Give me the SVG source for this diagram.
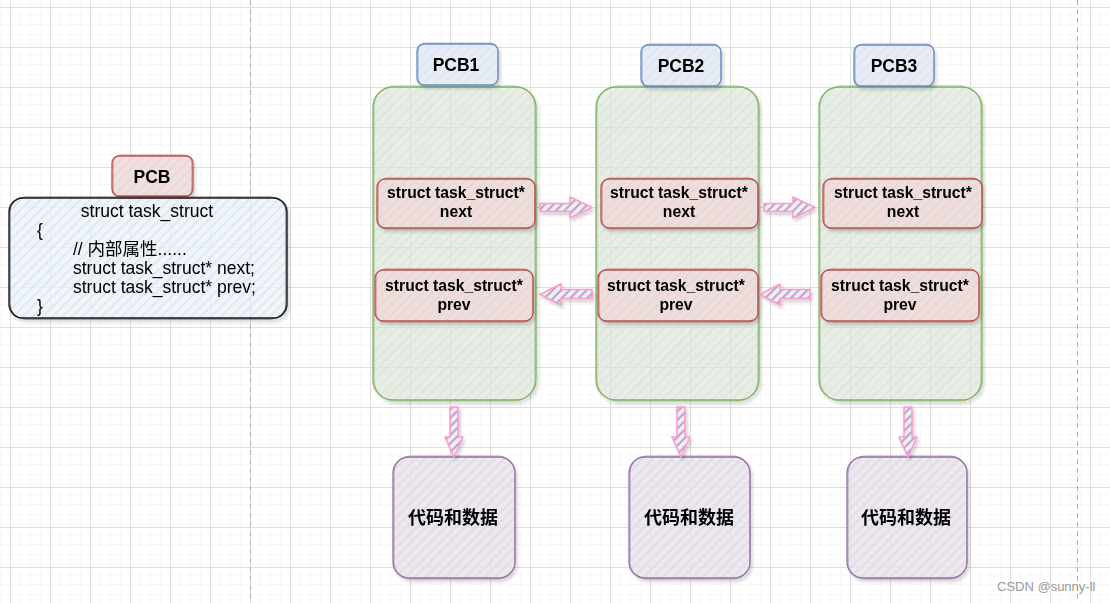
<svg xmlns="http://www.w3.org/2000/svg" width="1110" height="603" viewBox="0 0 1110 603">
<style>
  .t { font-family: "Liberation Sans", "Noto Sans CJK SC", Arial, sans-serif; fill: #000; }
  .mono { font-size: 17.5px; }
  .lbl { font-size: 17.5px; font-weight: bold; text-anchor: middle; }
  .fld { font-size: 15.7px; font-weight: bold; text-anchor: middle; }
  .code { font-size: 18px; font-weight: bold; text-anchor: middle; }
  .green { stroke: #82b366; stroke-width: 1.3; }
  .red { stroke: #b85450; stroke-width: 1.3; }
  .blue { stroke: #6c8ebf; stroke-width: 1.3; }
  .purple { stroke: #9673a6; stroke-width: 1.3; }
  .black { stroke: #1a1a1a; stroke-width: 1.4; }
  .echo { fill: none; stroke-width: 0.9; opacity: 0.75; }
  .arrow { fill: url(#hP); stroke: #ff99cc; stroke-width: 1.6; stroke-linejoin: round; }
</style>
<defs>
  <pattern id="gridMinor" width="10" height="10" x="10" y="7" patternUnits="userSpaceOnUse">
    <path d="M0 0H10M0 0V10" fill="none" stroke="#f1f1f1" stroke-width="1"/>
  </pattern>
  <pattern id="gridMajor" width="40" height="40" x="10" y="7" patternUnits="userSpaceOnUse">
    <rect width="40" height="40" fill="url(#gridMinor)"/>
    <path d="M0 0.5H40M0.5 0V40" fill="none" stroke="#dedede" stroke-width="1"/>
  </pattern>
  <pattern id="hG" width="7" height="7" patternUnits="userSpaceOnUse" patternTransform="rotate(45)">
    <rect width="7" height="7" fill="#e3ebe1" fill-opacity="0.6"/>
    <line x1="2" y1="0" x2="2" y2="7" stroke="#d9e6d6" stroke-width="1.8" stroke-opacity="0.8"/>
  </pattern>
  <pattern id="hR" width="7" height="7" patternUnits="userSpaceOnUse" patternTransform="rotate(45)">
    <rect width="7" height="7" fill="#efe0df" fill-opacity="0.85"/>
    <line x1="2" y1="0" x2="2" y2="7" stroke="#f2d2d0" stroke-width="1.8"/>
  </pattern>
  <pattern id="hB" width="7" height="7" patternUnits="userSpaceOnUse" patternTransform="rotate(45)">
    <rect width="7" height="7" fill="#e8edf5" fill-opacity="0.85"/>
    <line x1="2" y1="0" x2="2" y2="7" stroke="#dae5f6" stroke-width="1.8"/>
  </pattern>
  <pattern id="hS" width="7" height="7" patternUnits="userSpaceOnUse" patternTransform="rotate(45)">
    <rect width="7" height="7" fill="#f3f7fd" fill-opacity="0.7"/>
    <line x1="2" y1="0" x2="2" y2="7" stroke="#d6e4f6" stroke-width="1.5"/>
  </pattern>
  <pattern id="hU" width="7" height="7" patternUnits="userSpaceOnUse" patternTransform="rotate(45)">
    <rect width="7" height="7" fill="#ebe7ed" fill-opacity="0.8"/>
    <line x1="2" y1="0" x2="2" y2="7" stroke="#e2dae7" stroke-width="1.8"/>
  </pattern>
  <pattern id="hP" width="6" height="6" patternUnits="userSpaceOnUse" patternTransform="rotate(45)">
    <rect width="6" height="6" fill="#f3eef6"/>
    <line x1="2" y1="0" x2="2" y2="6" stroke="#b9a6cc" stroke-width="2.2"/>
  </pattern>
  <filter id="sh" x="-10%" y="-10%" width="120%" height="120%">
    <feDropShadow dx="2" dy="3" stdDeviation="1.5" flood-color="#000" flood-opacity="0.16"/>
  </filter>
</defs>

<rect width="1110" height="603" fill="#ffffff"/>
<rect width="1110" height="603" fill="url(#gridMajor)"/>
<g id="page-breaks" stroke="#b3b3b3" stroke-width="1" stroke-dasharray="5 4">
  <line x1="250.5" y1="0" x2="250.5" y2="603"/>
  <line x1="1077.5" y1="0" x2="1077.5" y2="603"/>
</g>

<!-- Left struct definition -->
<g id="node-pcb-label" filter="url(#sh)">
  <rect x="112" y="156" width="81" height="40" rx="7" fill="url(#hR)" class="red"/>
  <rect x="113" y="155" width="79" height="42" rx="8" class="red echo"/>
  <text x="152" y="183" class="t lbl">PCB</text>
</g>
<g id="node-struct" filter="url(#sh)">
  <rect x="9" y="198" width="278" height="120" rx="14" fill="url(#hS)" class="black"/>
  <rect x="10" y="197" width="276" height="122" rx="15" class="black echo"/>
  <text x="147" y="217" class="t mono" text-anchor="middle">struct task_struct</text>
  <text x="37" y="236" class="t mono">{</text>
  <text x="73" y="255" class="t mono">// 内部属性......</text>
  <text x="73" y="274" class="t mono">struct task_struct* next;</text>
  <text x="73" y="293" class="t mono">struct task_struct* prev;</text>
  <text x="37" y="312" class="t mono">}</text>
</g>

<!-- PCB1 -->
<g id="node-pcb1" filter="url(#sh)">
  <rect x="373" y="87" width="163" height="313" rx="20" fill="url(#hG)" class="green"/>
  <rect x="374" y="86" width="161" height="315" rx="21" class="green echo"/>
</g>
<g id="node-pcb1-label" filter="url(#sh)">
  <rect x="417" y="44" width="81" height="41" rx="7" fill="url(#hB)" class="blue"/>
  <rect x="418" y="43" width="80" height="43" rx="8" class="blue echo"/>
  <text x="456" y="71" class="t lbl">PCB1</text>
</g>
<g id="node-pcb1-next" filter="url(#sh)">
  <rect x="377" y="179" width="158" height="49" rx="8" fill="url(#hR)" class="red"/>
  <rect x="378" y="178" width="157" height="51" rx="9" class="red echo"/>
  <text x="456" y="198" class="t fld">struct task_struct*</text>
  <text x="456" y="217" class="t fld">next</text>
</g>
<g id="node-pcb1-prev" filter="url(#sh)">
  <rect x="375" y="270" width="158" height="51" rx="8" fill="url(#hR)" class="red"/>
  <rect x="376" y="269" width="157" height="53" rx="9" class="red echo"/>
  <text x="454" y="291" class="t fld">struct task_struct*</text>
  <text x="454" y="310" class="t fld">prev</text>
</g>

<!-- PCB2 -->
<g id="node-pcb2" filter="url(#sh)">
  <rect x="596" y="87" width="163" height="313" rx="20" fill="url(#hG)" class="green"/>
  <rect x="597" y="86" width="161" height="315" rx="21" class="green echo"/>
</g>
<g id="node-pcb2-label" filter="url(#sh)">
  <rect x="641" y="45" width="80" height="41" rx="7" fill="url(#hB)" class="blue"/>
  <rect x="642" y="44" width="79" height="43" rx="8" class="blue echo"/>
  <text x="681" y="72" class="t lbl">PCB2</text>
</g>
<g id="node-pcb2-next" filter="url(#sh)">
  <rect x="601" y="179" width="157" height="49" rx="8" fill="url(#hR)" class="red"/>
  <rect x="602" y="178" width="156" height="51" rx="9" class="red echo"/>
  <text x="679" y="198" class="t fld">struct task_struct*</text>
  <text x="679" y="217" class="t fld">next</text>
</g>
<g id="node-pcb2-prev" filter="url(#sh)">
  <rect x="598" y="270" width="160" height="51" rx="8" fill="url(#hR)" class="red"/>
  <rect x="599" y="269" width="159" height="53" rx="9" class="red echo"/>
  <text x="676" y="291" class="t fld">struct task_struct*</text>
  <text x="676" y="310" class="t fld">prev</text>
</g>

<!-- PCB3 -->
<g id="node-pcb3" filter="url(#sh)">
  <rect x="819" y="87" width="163" height="313" rx="20" fill="url(#hG)" class="green"/>
  <rect x="820" y="86" width="161" height="315" rx="21" class="green echo"/>
</g>
<g id="node-pcb3-label" filter="url(#sh)">
  <rect x="854" y="45" width="80" height="41" rx="7" fill="url(#hB)" class="blue"/>
  <rect x="855" y="44" width="79" height="43" rx="8" class="blue echo"/>
  <text x="894" y="72" class="t lbl">PCB3</text>
</g>
<g id="node-pcb3-next" filter="url(#sh)">
  <rect x="823" y="179" width="159" height="49" rx="8" fill="url(#hR)" class="red"/>
  <rect x="824" y="178" width="158" height="51" rx="9" class="red echo"/>
  <text x="903" y="198" class="t fld">struct task_struct*</text>
  <text x="903" y="217" class="t fld">next</text>
</g>
<g id="node-pcb3-prev" filter="url(#sh)">
  <rect x="821" y="270" width="158" height="51" rx="8" fill="url(#hR)" class="red"/>
  <rect x="822" y="269" width="157" height="53" rx="9" class="red echo"/>
  <text x="900" y="291" class="t fld">struct task_struct*</text>
  <text x="900" y="310" class="t fld">prev</text>
</g>

<!-- Code and data -->
<g id="node-code1" filter="url(#sh)">
  <rect x="393" y="457" width="122" height="121" rx="16" fill="url(#hU)" class="purple"/>
  <rect x="394" y="456" width="121" height="123" rx="17" class="purple echo"/>
  <text x="453" y="524" class="t code">代码和数据</text>
</g>
<g id="node-code2" filter="url(#sh)">
  <rect x="629" y="457" width="121" height="121" rx="16" fill="url(#hU)" class="purple"/>
  <rect x="630" y="456" width="120" height="123" rx="17" class="purple echo"/>
  <text x="689" y="524" class="t code">代码和数据</text>
</g>
<g id="node-code3" filter="url(#sh)">
  <rect x="847" y="457" width="120" height="121" rx="16" fill="url(#hU)" class="purple"/>
  <rect x="848" y="456" width="119" height="123" rx="17" class="purple echo"/>
  <text x="906" y="524" class="t code">代码和数据</text>
</g>

<!-- Connectors -->
<g id="connectors" filter="url(#sh)">
  <path class="arrow" d="M540 203.5 H570 V197 L592 207.5 L570 218 V211.5 H540 Z"/>
  <path class="arrow" d="M764 203.5 H793 V197 L815 207.5 L793 218 V211.5 H764 Z"/>
  <path class="arrow" d="M592 289.5 H561 V284 L540 294.5 L561 305 V298.5 H592 Z"/>
  <path class="arrow" d="M810 289.5 H780 V284 L760 294.5 L780 305 V298.5 H810 Z"/>
  <path class="arrow" d="M450 407 H458 V437 H463 L454 457 L445 437 H450 Z"/>
  <path class="arrow" d="M677 407 H685 V437 H690 L681 457 L672 437 H677 Z"/>
  <path class="arrow" d="M904 407 H912 V437 H917 L908 457 L899 437 H904 Z"/>
</g>

<text x="997" y="591" class="t" style="font-size:13px;fill:#999999">CSDN @sunny-ll</text>
</svg>
